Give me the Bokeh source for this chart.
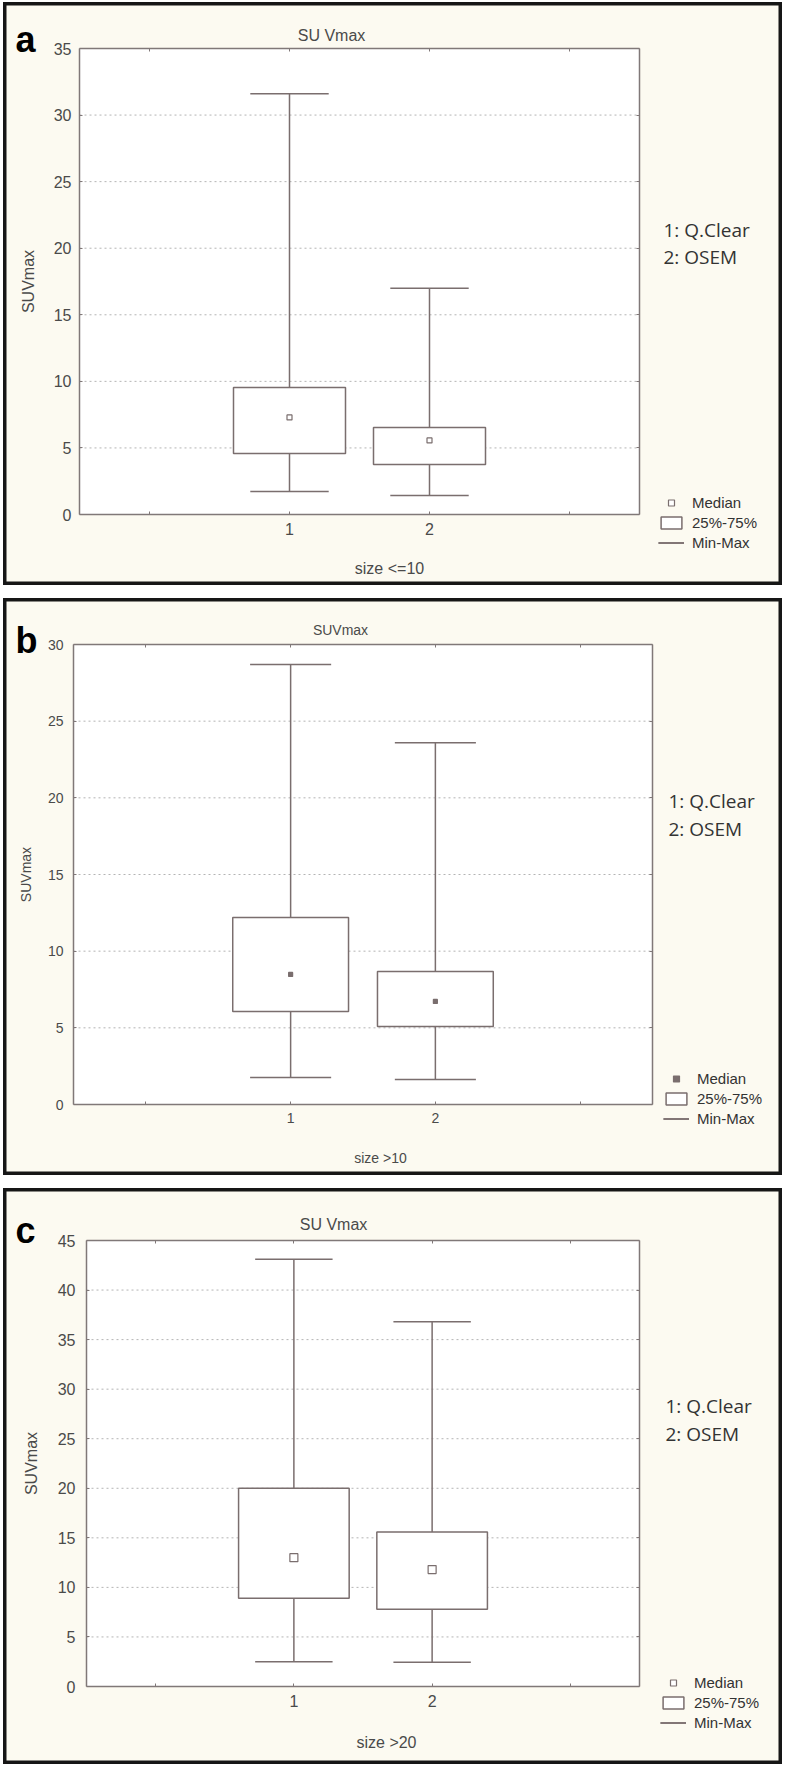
from bokeh.plotting import figure
from bokeh.models import Range1d, FixedTicker, LinearAxis, Label, Legend, LegendItem, BoxAnnotation
from bokeh.layouts import column
from bokeh.embed import file_html
from bokeh.resources import INLINE

# ---------------- data ----------------
categories = [1, 2]
category_labels = {0: "", 1: "1", 2: "2", 3: ""}
method_names = ["1: Q.Clear", "2: OSEM"]
key_labels = ["Median", "25%-75%", "Min-Max"]

panel_letters = ["a", "b", "c"]
panel_titles = ["SU Vmax", "SUVmax", "SU Vmax"]
size_labels = ["size <=10", "size >10", "size >20"]
y_axis_label = "SUVmax"
y_max = [35, 30, 45]

a_min = [1.73, 1.43]
a_q1 = [4.58, 3.76]
a_med = [7.29, 5.56]
a_q3 = [9.54, 6.54]
a_max = [31.6, 17.0]

b_min = [1.76, 1.63]
b_q1 = [6.07, 5.09]
b_med = [8.48, 6.72]
b_q3 = [12.2, 8.68]
b_max = [28.7, 23.6]

c_min = [2.5, 2.45]
c_q1 = [8.9, 7.8]
c_med = [13.0, 11.8]
c_q3 = [20.0, 15.6]
c_max = [43.1, 36.8]

# ---------------- style ----------------
FONT = "Liberation Sans"
CREAM = "#FCFAF1"
BOXC = "#7a6e6e"
FRAMEC = "#807878"
TXT = "#4a4a4a"
LEFT = 3          # page x of the panels' left edge
W = 779
XLO, XHI = -0.5, 3.5


def make_panel(idx, mins, q1, med, q3, maxs, g):
    ymax = y_max[idx]
    top, H = g["top"], g["H"]
    # inner plot area in page pixels
    fx0, fx1, fy0, fy1 = g["fx0"], g["fx1"], g["fy0"], g["fy1"]
    sx = (XHI - XLO) / (fx1 - fx0)
    sy = ymax / (fy1 - fy0)
    xr = Range1d(XLO - (fx0 - LEFT) * sx, XHI + (LEFT + W - fx1) * sx)
    yr = Range1d(0 - (top + H - fy1) * sy, ymax + (fy0 - top) * sy)

    def X(px):
        return XLO + (px - fx0) * sx

    def Y(py):
        return (fy1 - py) * sy

    p = figure(width=W, height=H, output_backend="svg", toolbar_location=None,
               x_range=xr, y_range=yr, x_axis_location=None, y_axis_location=None,
               min_border=0, background_fill_color=CREAM, border_fill_color=CREAM)
    p.grid.visible = False
    p.outline_line_color = "#161616"
    p.outline_line_width = 6

    # white plot area
    p.add_layout(BoxAnnotation(left=XLO, right=XHI, bottom=0, top=ymax,
                               fill_color="white", fill_alpha=1, line_color=None,
                               level="underlay"))

    # dotted horizontal grid lines
    grid_ticks = list(range(5, ymax, 5))
    p.segment(x0=[XLO] * len(grid_ticks), x1=[XHI] * len(grid_ticks),
              y0=grid_ticks, y1=grid_ticks, line_color="#b4b4b4",
              line_dash="2 3", line_width=1)

    fs = g["fs"]
    yticks = list(range(0, ymax + 1, 5))
    # left axis
    ya = LinearAxis(fixed_location=XLO, bounds=(0, ymax), ticker=FixedTicker(ticks=yticks),
                    major_label_text_font=FONT, major_label_text_font_size=fs,
                    major_label_text_color=TXT, major_label_standoff=g["ystand"],
                    major_tick_out=0, major_tick_in=3, major_tick_line_color=FRAMEC,
                    minor_tick_line_color=None, axis_line_color=FRAMEC, axis_line_width=1.5,
                    axis_label=y_axis_label, axis_label_text_font=FONT,
                    axis_label_text_font_style="normal", axis_label_text_font_size=g["lfs"],
                    axis_label_text_color=TXT, axis_label_standoff=g["lstand"])
    p.add_layout(ya, "left")
    # bottom axis
    xa = LinearAxis(fixed_location=0, bounds=(XLO, XHI), ticker=FixedTicker(ticks=[0, 1, 2, 3]),
                    major_label_overrides=category_labels,
                    major_label_text_font=FONT, major_label_text_font_size=fs,
                    major_label_text_color=TXT, major_label_standoff=g["xstand"],
                    major_tick_out=0, major_tick_in=3, major_tick_line_color=FRAMEC,
                    minor_tick_line_color=None, axis_line_color=FRAMEC, axis_line_width=1.5)
    p.add_layout(xa, "below")
    # top and right axes (tick marks only)
    for loc, fixed, bnds, tk in (("above", ymax, (XLO, XHI), [0, 1, 2, 3]),
                                 ("right", XHI, (0, ymax), yticks)):
        ax = LinearAxis(fixed_location=fixed, bounds=bnds, ticker=FixedTicker(ticks=tk),
                        major_label_overrides={t: "" for t in tk},
                        major_label_text_alpha=0,
                        major_tick_out=0, major_tick_in=3,
                        major_tick_line_color=FRAMEC, minor_tick_line_color=None,
                        axis_line_color=FRAMEC, axis_line_width=1.5)
        p.add_layout(ax, loc)

    # box plot
    stem_r = p.segment(x0=categories + categories, y0=q3 + q1,
                       x1=categories + categories, y1=maxs + mins,
                       line_color=BOXC, line_width=1.5)
    box_r = p.vbar(x=categories, width=0.8, bottom=q1, top=q3,
                   fill_color="white", line_color=BOXC, line_width=1.5)
    cap_half = 0.28
    cx0 = [c - cap_half for c in categories]
    cx1 = [c + cap_half for c in categories]
    cap_r = p.segment(x0=cx0 + cx0, y0=maxs + mins, x1=cx1 + cx1, y1=maxs + mins,
                      line_color=BOXC, line_width=1.5)
    med_r = p.scatter(x=categories, y=med, marker="square", size=g["msize"],
                      fill_color=g["mfill"], line_color=BOXC, line_width=1.2)

    # texts
    p.add_layout(Label(x=X(15), y=Y(g["letter_y"]), text=panel_letters[idx],
                       text_font=FONT, text_font_style="bold", text_font_size="36px",
                       text_color="black", text_align="left", text_baseline="alphabetic"))
    p.add_layout(Label(x=X(g["title_x"]), y=Y(g["title_y"]), text=panel_titles[idx],
                       text_font=FONT, text_font_size=g["tfs"], text_color=TXT,
                       text_align="center", text_baseline="alphabetic"))
    p.add_layout(Label(x=X(g["size_x"]), y=Y(g["size_y"]), text=size_labels[idx],
                       text_font=FONT, text_font_size=g["tfs"], text_color=TXT,
                       text_align="center", text_baseline="alphabetic"))
    for k, name in enumerate(method_names):
        p.add_layout(Label(x=X(g["names_x"]), y=Y(g["names_y"][k]), text=name,
                           text_font="Open Sans", text_font_size="19px",
                           text_color="#333333", text_align="left", text_baseline="middle"))

    legend = Legend(items=[LegendItem(label=key_labels[0], renderers=[med_r]),
                           LegendItem(label=key_labels[1], renderers=[box_r]),
                           LegendItem(label=key_labels[2], renderers=[cap_r, stem_r])],
                    location=(g["kx"] - LEFT, top + H - g["kbottom"]),
                    background_fill_alpha=0, border_line_alpha=0,
                    padding=0, margin=0, spacing=3,
                    glyph_width=26, glyph_height=15, label_height=15,
                    label_standoff=8, label_text_font=FONT,
                    label_text_font_size="15px", label_text_color="#333333")
    p.add_layout(legend)
    return p


ga = dict(top=2, H=583, fx0=79, fx1=639, fy0=48, fy1=514, fs="16px", lfs="16px", tfs="16px",
          ystand=8, xstand=8, lstand=14, msize=5, mfill="white",
          letter_y=39, title_x=331, title_y=35, size_x=389, size_y=568,
          names_x=663, names_y=[229, 256], kx=658, kbottom=550.5)
gb = dict(top=598, H=577, fx0=73, fx1=652, fy0=644, fy1=1104, fs="14px", lfs="14px", tfs="14px",
          ystand=10, xstand=8, lstand=11, msize=4, mfill=BOXC,
          letter_y=640, title_x=340, title_y=629, size_x=380, size_y=1157,
          names_x=668, names_y=[800, 828], kx=663, kbottom=1126.5)
gc = dict(top=1188, H=576, fx0=86, fx1=639, fy0=1240, fy1=1686, fs="16px", lfs="16px", tfs="16px",
          ystand=11, xstand=8, lstand=15, msize=8, mfill="white",
          letter_y=1230, title_x=333, title_y=1224, size_x=386, size_y=1742,
          names_x=665, names_y=[1405, 1433], kx=660, kbottom=1730.5)

pa = make_panel(0, a_min, a_q1, a_med, a_q3, a_max, ga)
pb = make_panel(1, b_min, b_q1, b_med, b_q3, b_max, gb)
pc = make_panel(2, c_min, c_q1, c_med, c_q3, c_max, gc)

layout = column(pa, pb, pc, spacing=13, margin=(2, 0, 0, LEFT))

with open("out.html", "w") as f:
    f.write(file_html(layout, INLINE))
